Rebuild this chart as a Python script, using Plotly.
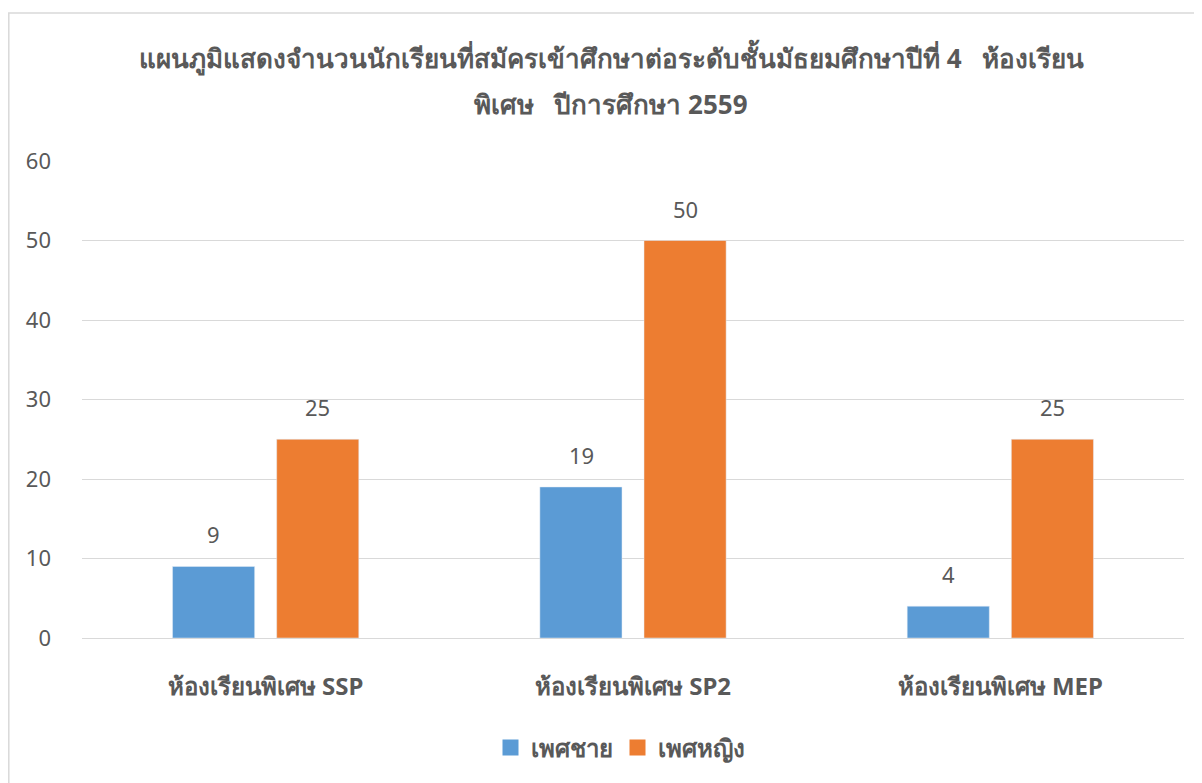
import plotly.graph_objects as go

categories = ["ห้องเรียนพิเศษ SSP", "ห้องเรียนพิเศษ SP2", "ห้องเรียนพิเศษ MEP"]
male = [9, 19, 4]
female = [25, 50, 25]
series_names = ["เพศชาย", "เพศหญิง"]
colors = ["#5B9BD5", "#ED7D31"]
title_lines = ["แผนภูมิแสดงจำนวนนักเรียนที่สมัครเข้าศึกษาต่อระดับชั้นมัธยมศึกษาปีที่ 4   ห้องเรียน",
               "พิเศษ   ปีการศึกษา 2559"]
y_ticks = [0, 10, 20, 30, 40, 50, 60]

GRAY = "#595959"
FONT = "Noto Sans, sans-serif"

W, H = 1194, 775
L, R, T, B = 74, 18, 153, 145
PW, PH = W - L - R, H - T - B

def px(xf):
    return (xf - L) / PW

def py(yf):
    return (H - B - yf) / PH

fig = go.Figure()
for name, vals, col in zip(series_names, (male, female), colors):
    fig.add_trace(go.Bar(x=categories, y=vals, name=name, marker_color=col, showlegend=False))
for name, col in zip(series_names, colors):
    fig.add_trace(go.Scatter(x=[None], y=[None], mode="markers", name=name,
                             marker=dict(symbol="square", size=16, color=col)))

annotations = []
for vals, shift in ((male, -52), (female, 52)):
    for c, v in zip(categories, vals):
        annotations.append(dict(x=c, y=v, xref="x", yref="y", text=str(v), showarrow=False,
                                xshift=shift, yshift=15, yanchor="bottom",
                                font=dict(size=22, color=GRAY, family=FONT)))
for line, yf in zip(title_lines, (50, 96)):
    annotations.append(dict(x=px(603), y=py(yf), xref="paper", yref="paper", text=line,
                            showarrow=False, xanchor="center", yanchor="middle",
                            font=dict(size=26, color=GRAY, family=FONT, weight="bold")))

fig.update_layout(
    width=W, height=H,
    margin=dict(l=L, r=R, t=T, b=B),
    paper_bgcolor="white", plot_bgcolor="white",
    font=dict(family=FONT, color=GRAY),
    barmode="group", bargap=0.433, bargroupgap=0.2115,
    showlegend=True,
    legend=dict(orientation="h", x=px(612), xanchor="center", y=py(740), yanchor="middle",
                font=dict(size=24, color=GRAY, family=FONT, weight="bold"),
                itemwidth=30, traceorder="normal", itemsizing="trace"),
    annotations=annotations,
    shapes=[dict(type="rect", xref="paper", yref="paper",
                 x0=px(0.8), x1=px(W + 20),
                 y0=py(H + 20), y1=py(5),
                 line=dict(color="#D9D9D9", width=1.5), fillcolor="rgba(0,0,0,0)", layer="below")],
)
fig.update_xaxes(showgrid=False, showline=False, zeroline=False, ticks="",
                 tickfont=dict(size=24, color=GRAY, family=FONT, weight="bold"),
                 ticklabelstandoff=32)
fig.update_yaxes(range=[0, 60], tickvals=y_ticks, showgrid=True, gridcolor="#D9D9D9", gridwidth=1.2,
                 zeroline=True, zerolinecolor="#D9D9D9", zerolinewidth=1.2, showline=False, ticks="",
                 tickfont=dict(size=22, color=GRAY, family=FONT), ticklabelstandoff=30)

fig.write_html("out.html")
